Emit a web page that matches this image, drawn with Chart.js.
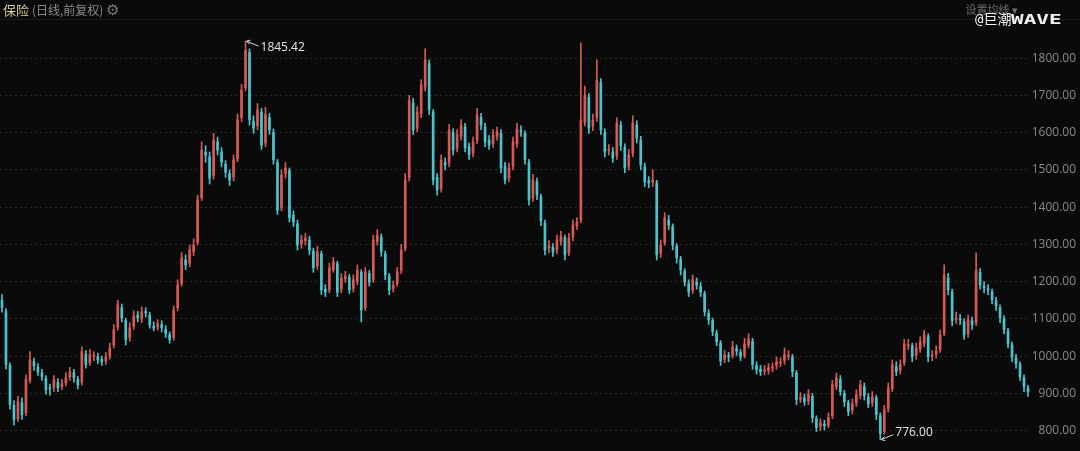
<!DOCTYPE html>
<html>
<head>
<meta charset="utf-8">
<script src="https://cdn.jsdelivr.net/npm/chart.js@4"></script>
<style>
    html, body { margin: 0; padding: 0; background: #0a0a0a; }
    #wrap { position: relative; width: 1080px; height: 451px; overflow: hidden; }
    #kline { position: absolute; left: 0; top: 0; }
    .head { position: absolute; top: 1px; font-family: "Noto Sans CJK SC", "Noto Sans", sans-serif; font-size: 12px; line-height: 16px; white-space: nowrap; }
    #title { left: 3px; color: #d9cf95; font-size: 13px; }
    #title span { color: #8c8c8c; font-size: 12px; }
    #title b { font-weight: normal; font-size: 15px; color: #777; }
    #ma { right: 62px; color: #6f6f6f; font-size: 11px; }
    #mark { position: absolute; left: 975px; top: 11px; line-height: 16px; color: #f2f2f2; font-family: "DejaVu Sans Mono", "Noto Sans CJK SC", monospace; font-size: 14px; white-space: nowrap; }
    #mark span { display: inline-block; font-weight: bold; transform: scaleX(1.5); transform-origin: left center; }
    #rule { position: absolute; left: 0; top: 19px; width: 1080px; height: 1px; background: #1c1c1c; }
</style>
</head>
<body>
<div id="wrap">
    <canvas id="kline" width="1080" height="451"></canvas>
    <div id="rule"></div>
    <div class="head" id="title">保险 <span>(日线,前复权)</span> <b>⚙</b></div>
    <div class="head" id="ma">设置均线 ▾</div>
    <div id="mark">@巨潮<span>WAVE</span></div>
</div>
<script>
// daily candles (one entry per ~4 px)
const opens = [1150,1120,975,868,832,875,848,935,985,970,955,940,915,915,930,918,928,945,955,938,
    930,1005,982,1000,998,992,988,1000,1030,1078,1130,1095,1050,1080,1110,1100,1120,1110,1080,1078,
    1085,1072,1058,1050,1130,1195,1258,1250,1280,1305,1425,1548,1535,1485,1575,1548,1515,1490,1480,1530,
    1640,1720,1815,1630,1618,1655,1572,1640,1600,1520,1398,1490,1498,1378,1355,1302,1310,1312,1282,1242,
    1275,1180,1178,1232,1248,1180,1208,1212,1182,1200,1225,1130,1222,1205,1308,1320,1275,1215,1182,1195,
    1230,1290,1480,1680,1612,1650,1722,1785,1655,1480,1450,1520,1518,1600,1558,1590,1615,1562,1545,1580,
    1640,1615,1580,1570,1590,1598,1510,1478,1510,1570,1605,1598,1520,1425,1468,1428,1358,1290,1292,1285,
    1308,1318,1278,1320,1350,1365,1628,1695,1618,1640,1735,1600,1552,1548,1538,1620,1560,1510,1545,1620,
    1580,1508,1470,1468,1465,1278,1305,1365,1348,1295,1260,1228,1195,1178,1200,1188,1168,1115,1095,1062,
    1035,992,1000,1002,1020,1010,1002,1030,1040,975,965,960,962,968,975,982,988,1000,998,955,
    885,888,880,892,832,812,818,815,840,918,938,900,875,855,875,895,918,890,875,888,
    840,798,860,912,972,962,982,1028,1028,1002,1020,1035,1052,1000,1005,1018,1062,1210,1172,1098,
    1100,1092,1060,1095,1090,1225,1188,1180,1172,1148,1130,1100,1068,1030,995,978,942,915];
const highs = [1165,1128,982,880,892,888,950,1012,995,980,965,948,925,948,940,938,955,970,965,945,
    1025,1015,1018,1012,1008,1000,1010,1035,1085,1150,1140,1102,1090,1122,1120,1132,1130,1118,1092,1098,
    1095,1082,1065,1135,1205,1278,1272,1298,1315,1432,1575,1565,1548,1598,1588,1560,1525,1500,1540,1650,
    1730,1845.42,1825,1645,1678,1665,1668,1652,1610,1528,1500,1520,1505,1390,1365,1325,1330,1322,1290,1295,
    1282,1192,1250,1265,1255,1222,1228,1220,1218,1245,1232,1238,1230,1325,1340,1328,1282,1222,1202,1238,
    1300,1490,1700,1692,1670,1742,1825,1795,1662,1490,1540,1532,1622,1610,1608,1635,1625,1572,1588,1665,
    1652,1625,1592,1608,1615,1608,1520,1518,1588,1625,1618,1605,1528,1488,1478,1435,1365,1310,1302,1325,
    1335,1325,1330,1365,1372,1840,1725,1705,1650,1795,1745,1610,1568,1560,1640,1630,1570,1555,1645,1632,
    1590,1518,1482,1500,1472,1312,1385,1378,1355,1302,1268,1235,1205,1218,1210,1198,1175,1125,1102,1070,
    1042,1015,1010,1040,1030,1018,1048,1060,1048,985,975,975,980,982,998,995,1022,1015,1005,962,
    902,898,910,900,840,832,828,848,935,955,948,908,882,885,910,935,928,900,905,895,
    848,868,928,990,985,990,1045,1045,1035,1035,1052,1070,1060,1015,1028,1070,1245,1222,1180,1118,
    1112,1100,1110,1105,1277,1235,1200,1192,1180,1158,1138,1108,1075,1038,1005,985,950,922];
const lows = [1118,965,858,815,825,830,840,928,962,948,935,898,895,905,905,910,920,935,930,912,
    922,968,975,988,980,975,978,992,1022,1070,1092,1030,1040,1072,1092,1090,1105,1075,1068,1070,
    1065,1050,1035,1042,1122,1188,1232,1240,1270,1298,1418,1520,1462,1475,1540,1508,1480,1458,1470,1522,
    1630,1712,1620,1598,1608,1555,1562,1595,1515,1380,1390,1478,1360,1348,1285,1290,1298,1272,1225,1232,
    1165,1160,1170,1225,1160,1170,1198,1168,1172,1192,1092,1122,1188,1198,1298,1268,1205,1165,1172,1188,
    1222,1282,1470,1595,1602,1640,1712,1648,1460,1432,1440,1500,1508,1540,1548,1580,1548,1528,1535,1570,
    1608,1562,1555,1560,1580,1492,1462,1468,1500,1560,1590,1515,1405,1415,1420,1350,1272,1278,1268,1275,
    1298,1258,1270,1310,1340,1358,1618,1598,1605,1630,1595,1535,1540,1520,1528,1552,1492,1500,1535,1572,
    1500,1455,1452,1455,1258,1265,1298,1340,1285,1250,1218,1188,1160,1168,1180,1160,1108,1085,1055,1028,
    975,982,985,995,1002,988,995,1022,965,952,948,950,952,958,965,972,978,990,945,870,
    875,868,870,822,798,800,802,808,832,910,895,865,840,845,865,885,882,862,865,830,
    776,790,850,905,948,952,975,1018,985,992,1010,1025,985,988,995,1010,1055,1165,1082,1088,
    1085,1045,1050,1072,1082,1180,1170,1165,1140,1122,1090,1060,1022,985,968,935,905,892];
const closes = [1130,977,870,829,878,843,937,990,974,958,945,910,912,937,915,926,942,958,942,923,
    1012,977,1004,1001,990,985,998,1022,1071,1138,1103,1044,1076,1108,1103,1119,1116,1084,1076,1087,
    1076,1060,1044,1124,1191,1264,1245,1285,1298,1419,1553,1540,1478,1580,1553,1521,1494,1473,1527,1634,
    1714,1821,1634,1612,1661,1567,1648,1607,1527,1392,1486,1505,1371,1360,1298,1312,1317,1285,1237,1280,
    1178,1172,1237,1253,1172,1210,1215,1178,1205,1231,1124,1226,1199,1312,1325,1280,1218,1178,1191,1226,
    1285,1473,1687,1607,1655,1728,1795,1661,1473,1446,1527,1513,1607,1553,1594,1620,1559,1540,1575,1648,
    1620,1575,1567,1594,1602,1505,1473,1505,1575,1610,1602,1527,1419,1473,1433,1363,1285,1296,1280,1312,
    1322,1272,1317,1352,1360,1634,1700,1612,1634,1741,1607,1548,1553,1532,1626,1565,1505,1540,1626,1585,
    1513,1468,1465,1473,1272,1298,1371,1352,1298,1264,1231,1199,1172,1205,1191,1172,1119,1098,1066,1039,
    987,1003,998,1025,1014,998,1033,1046,977,963,958,963,969,971,985,983,1004,1002,958,883,
    889,878,897,835,808,821,813,835,923,942,905,878,851,872,897,923,894,872,891,843,
    792,856,915,977,958,977,1033,1031,998,1022,1039,1057,998,1001,1014,1057,1218,1178,1095,1103,
    1098,1057,1098,1084,1231,1191,1183,1178,1151,1135,1103,1071,1033,998,980,945,918,905];
const yTicks = [800, 900, 1000, 1100, 1200, 1300, 1400, 1500, 1600, 1700, 1800];

const UP = '#d65a53';
const DOWN = '#4cc3cc';

const labels = closes.map((c, i) => 'd' + i);
const colors = closes.map((c, i) => c >= opens[i] ? UP : DOWN);

// max / min markers with little pointer lines
const extremaPlugin = {
    id: 'extrema',
    afterDatasetsDraw(chart) {
        const ctx = chart.ctx;
        const x = chart.scales.x;
        const y = chart.scales.y;
        const hi = highs.indexOf(Math.max(...highs));
        const lo = lows.indexOf(Math.min(...lows));
        ctx.save();
        ctx.strokeStyle = '#d8d8d8';
        ctx.fillStyle = '#e6e6e6';
        ctx.lineWidth = 1;
        ctx.font = '12px "Open Sans", "Noto Sans", sans-serif';
        ctx.textBaseline = 'middle';

        let px = x.getPixelForValue(hi) + 1;
        let py = y.getPixelForValue(highs[hi]);
        ctx.beginPath();
        ctx.moveTo(px, py);
        ctx.lineTo(px + 12, py + 5);
        ctx.stroke();
        ctx.beginPath();
        ctx.moveTo(px, py);
        ctx.lineTo(px + 4, py - 1);
        ctx.moveTo(px, py);
        ctx.lineTo(px + 3, py + 3);
        ctx.stroke();
        ctx.fillText(highs[hi].toFixed(2), px + 14, py + 6);

        px = x.getPixelForValue(lo) + 1;
        py = y.getPixelForValue(lows[lo]);
        ctx.beginPath();
        ctx.moveTo(px, py);
        ctx.lineTo(px + 12, py - 5);
        ctx.stroke();
        ctx.beginPath();
        ctx.moveTo(px, py);
        ctx.lineTo(px + 4, py + 1);
        ctx.moveTo(px, py);
        ctx.lineTo(px + 3, py - 3);
        ctx.stroke();
        ctx.fillText(lows[lo].toFixed(2), px + 14, py - 7);
        ctx.restore();
    }
};

new Chart(document.getElementById('kline'), {
    type: 'bar',
    data: {
        labels: labels,
        datasets: [{
            // wicks
            data: lows.map((l, i) => [l, highs[i]]),
            backgroundColor: colors,
            barThickness: 1,
            grouped: false,
            order: 2
        }, {
            // bodies
            data: opens.map((o, i) => [o, closes[i]]),
            backgroundColor: colors,
            barThickness: 2,
            minBarLength: 1,
            grouped: false,
            order: 1
        }]
    },
    options: {
        responsive: false,
        animation: false,
        layout: { padding: { top: 32, bottom: 11, left: 0, right: 4 } },
        plugins: {
            legend: { display: false },
            tooltip: { enabled: false }
        },
        scales: {
            x: { display: false },
            y: {
                position: 'right',
                min: 775,
                max: 1870,
                afterFit: function(scale) { scale.width = 46; },
                afterBuildTicks: function(scale) {
                    scale.ticks = yTicks.map(v => ({ value: v }));
                },
                border: { display: false, dash: [2, 3] },
                grid: {
                    color: '#2a2a2a',
                    tickLength: 0,
                    drawTicks: false
                },
                ticks: {
                    color: '#8a8a8a',
                    padding: 0,
                    crossAlign: 'far',
                    font: { family: '"Open Sans", "Noto Sans", sans-serif', size: 12 },
                    callback: function(value) { return Number(value).toFixed(2); }
                }
            }
        }
    },
    plugins: [extremaPlugin]
});
</script>
</body>
</html>
